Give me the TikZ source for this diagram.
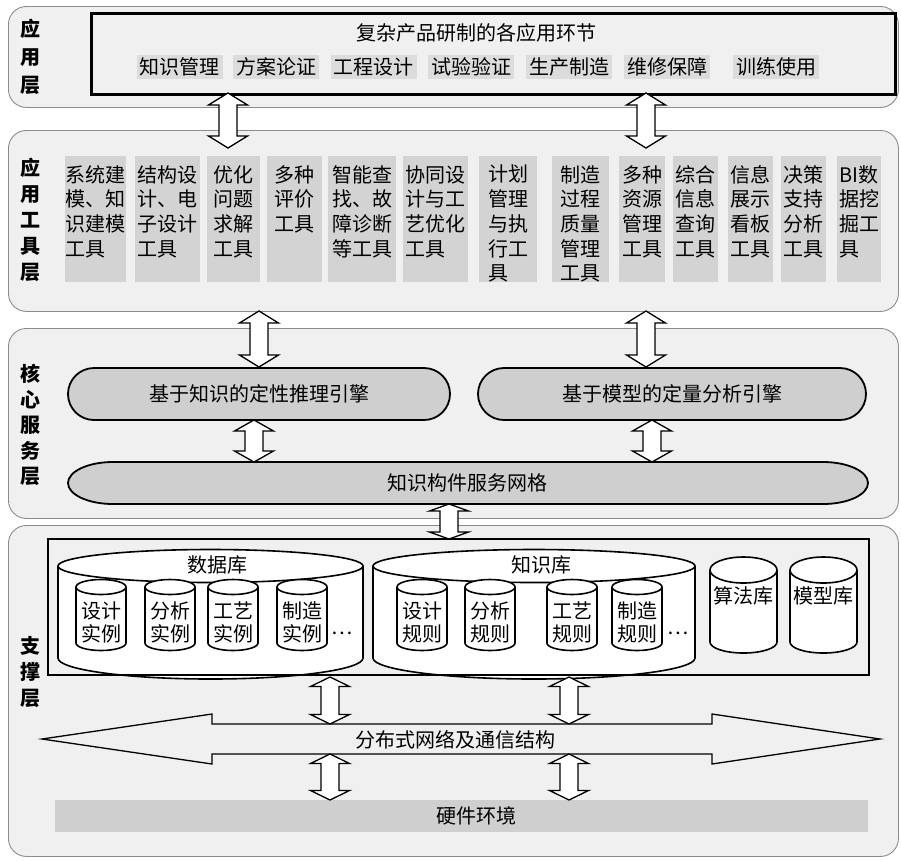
\documentclass[tikz,border=0pt]{standalone}
\usepackage{fontspec}
\setmainfont{Noto Sans CJK SC}
\definecolor{layerbg}{HTML}{F0F0F0}
\definecolor{layerline}{HTML}{8C8C8C}
\definecolor{toolgray}{HTML}{D3D3D3}
\definecolor{enggray}{HTML}{CFCFCF}
\definecolor{itemgray}{HTML}{DCDCDC}
\newcommand\vdarrow[4]{% x, ytop, ybottom, head length
  \draw[blockarrow] (#1-19.5,#2+#4) -- (#1,#2) -- (#1+19.5,#2+#4) -- (#1+9,#2+#4) -- (#1+9,#3-#4) -- (#1+19.5,#3-#4) -- (#1,#3) -- (#1-19.5,#3-#4) -- (#1-9,#3-#4) -- (#1-9,#2+#4) -- cycle;}
\newcommand\drawcyl[6]{% x1, x2, y top centre, y bottom centre, top ry, bottom ry
  \pgfmathsetmacro\cyCx{(#1+#2)/2}%
  \pgfmathsetmacro\cyKx{0.5523*(#2-#1)/2}%
  \draw[cyl] (#1,#3) -- (#1,#4) .. controls (#1,#4+0.5523*#6) and (\cyCx-\cyKx,#4+#6) .. (\cyCx,#4+#6) .. controls (\cyCx+\cyKx,#4+#6) and (#2,#4+0.5523*#6) .. (#2,#4) -- (#2,#3) .. controls (#2,#3-0.5523*#5) and (\cyCx+\cyKx,#3-#5) .. (\cyCx,#3-#5) .. controls (\cyCx-\cyKx,#3-#5) and (#1,#3-0.5523*#5) .. (#1,#3) -- cycle;
  \draw[cyl, fill=none] (#1,#3) .. controls (#1,#3+0.5523*#5) and (\cyCx-\cyKx,#3+#5) .. (\cyCx,#3+#5) .. controls (\cyCx+\cyKx,#3+#5) and (#2,#3+0.5523*#5) .. (#2,#3);}
\begin{document}
\begin{tikzpicture}[x=1pt,y=-1pt,
  every node/.style={inner sep=0pt, font=\fontsize{20pt}{24.7pt}\selectfont},
  layerbox/.style={draw=layerline, line width=0.9pt, fill=layerbg, rounded corners=18pt, anchor=north west},
  lab/.style={font=\bfseries\fontsize{20pt}{26pt}\selectfont, align=center},
  itembox/.style={fill=itemgray, inner xsep=3pt, inner ysep=2.5pt},
  toolbox/.style={fill=toolgray, minimum height=126pt, anchor=north},
  tooltext/.style={anchor=north, align=left},
  blockarrow/.style={draw=black, line width=1.3pt, fill=white, line join=miter},
  engine/.style={draw=black, line width=1.8pt, fill=enggray, rounded corners=26pt, minimum height=52pt},
  cyl/.style={draw=black, line width=1.6pt, fill=white},
  twoline/.style={align=center, font=\fontsize{20pt}{23pt}\selectfont},
]
\useasboundingbox (0,0) rectangle (901,860);

% layers
\node[layerbox, minimum width=890pt, minimum height=101pt] (L1) at (8,6) {};
\node[layerbox, minimum width=890pt, minimum height=181pt] (L2) at (8,130) {};
\node[layerbox, minimum width=890pt, minimum height=190pt] (L3) at (8,328) {};
\node[layerbox, minimum width=890pt, minimum height=331pt] (L4) at (8,525) {};

\node[lab, font=\bfseries\fontsize{20pt}{28pt}\selectfont] (lab1) at (30,57) {应\\用\\层};
\node[lab] (lab2) at (30,220) {应\\用\\工\\具\\层};
\node[lab, font=\bfseries\fontsize{20pt}{25.5pt}\selectfont] (lab3) at (30,425) {核\\心\\服\\务\\层};
\node[lab] (lab4) at (30,672) {支\\撑\\层};

% application layer
\node[draw=black, line width=2.5pt, minimum width=804pt, minimum height=81pt, anchor=north west] (apps) at (90,12) {};
\node (title) at (476,33) {复杂产品研制的各应用环节};
\node[itembox] (a1) at (179.5,67) {知识管理};
\node[itembox] (a2) at (276,67) {方案论证};
\node[itembox] (a3) at (373.5,67) {工程设计};
\node[itembox] (a4) at (471,67) {试验验证};
\node[itembox] (a5) at (569,67) {生产制造};
\node[itembox] (a6) at (667,67) {维修保障};
\node[itembox] (a7) at (776,67) {训练使用};

% tool layer
\node[toolbox, minimum width=61pt] (t1) at (95.5,156) {};
\node[toolbox, minimum width=65pt] (t2) at (167.5,156) {};
\node[toolbox, minimum width=53pt] (t3) at (233.5,156) {};
\node[toolbox, minimum width=55pt] (t4) at (294.5,156) {};
\node[toolbox, minimum width=68pt] (t5) at (362,156) {};
\node[toolbox, minimum width=65pt] (t6) at (435.5,156) {};
\node[toolbox, minimum width=58pt] (t7) at (508,156) {};
\node[toolbox, minimum width=57pt] (t8) at (580.5,156) {};
\node[toolbox, minimum width=46pt] (t9) at (642,156) {};
\node[toolbox, minimum width=45pt] (t10) at (695.5,156) {};
\node[toolbox, minimum width=45pt] (t11) at (750.5,156) {};
\node[toolbox, minimum width=45pt] (t12) at (803.5,156) {};
\node[toolbox, minimum width=44pt] (t13) at (859,156) {};
\node[tooltext] (tt1) at ([yshift=-9pt]t1.north) {系统建\\模、知\\识建模\\工具};
\node[tooltext] (tt2) at ([yshift=-9pt]t2.north) {结构设\\计、电\\子设计\\工具};
\node[tooltext] (tt3) at ([yshift=-9pt]t3.north) {优化\\问题\\求解\\工具};
\node[tooltext] (tt4) at ([yshift=-9pt]t4.north) {多种\\评价\\工具};
\node[tooltext] (tt5) at ([yshift=-9pt]t5.north) {智能查\\找、故\\障诊断\\等工具};
\node[tooltext] (tt6) at ([yshift=-9pt]t6.north) {协同设\\计与工\\艺优化\\工具};
\node[tooltext] (tt7) at ([yshift=-9pt]t7.north) {计划\\管理\\与执\\行工\\具};
\node[tooltext] (tt8) at ([yshift=-9pt]t8.north) {制造\\过程\\质量\\管理\\工具};
\node[tooltext] (tt9) at ([yshift=-9pt]t9.north) {多种\\资源\\管理\\工具};
\node[tooltext] (tt10) at ([yshift=-9pt]t10.north) {综合\\信息\\查询\\工具};
\node[tooltext] (tt11) at ([yshift=-9pt]t11.north) {信息\\展示\\看板\\工具};
\node[tooltext] (tt12) at ([yshift=-9pt]t12.north) {决策\\支持\\分析\\工具};
\node[tooltext] (tt13) at ([yshift=-9pt]t13.north) {BI数\\据挖\\掘工\\具};

% core service layer
\node[engine, minimum width=382pt] (e1) at (259,394) {基于知识的定性推理引擎};
\node[engine, minimum width=388pt] (e2) at (672,394) {基于模型的定量分析引擎};
\draw[draw=black, line width=1.8pt, fill=enggray] (113,462) -- (823,462) .. controls (847.9,462) and (868,471.4) .. (868,483) .. controls (868,494.6) and (847.9,504) .. (823,504) -- (113,504) .. controls (88.1,504) and (68,494.6) .. (68,483) .. controls (68,471.4) and (88.1,462) .. (113,462) -- cycle;
\node (grid) at (467,483) {知识构件服务网格};

% support layer
\drawcyl{58}{363}{566}{658}{16.5}{21}
\drawcyl{373}{695}{566}{658}{16.5}{21}
\draw[black, line width=2.5pt] (48,539) rectangle (869,675);
\coordinate (store) at (458.5,607);
\node (db) at (217,565) {数据库};
\node (kb) at (541,565) {知识库};
\drawcyl{76}{126}{587}{643}{7.5}{7.5}
\drawcyl{145}{195}{587}{643}{7.5}{7.5}
\drawcyl{208}{258}{587}{643}{7.5}{7.5}
\drawcyl{277}{327}{587}{643}{7.5}{7.5}
\drawcyl{397}{447}{587}{643}{7.5}{7.5}
\drawcyl{465}{515}{587}{643}{7.5}{7.5}
\drawcyl{547}{597}{587}{643}{7.5}{7.5}
\drawcyl{612}{662}{587}{643}{7.5}{7.5}
\drawcyl{710}{777}{570}{642}{13}{11}
\drawcyl{790}{857}{570}{642}{13}{11}
\node[twoline] (c1) at (101,622) {设计\\实例};
\node[twoline] (c2) at (170,622) {分析\\实例};
\node[twoline] (c3) at (233,622) {工艺\\实例};
\node[twoline] (c4) at (302,622) {制造\\实例};
\node (d1) at (342,633) {…};
\node[twoline] (c5) at (422,622) {设计\\规则};
\node[twoline] (c6) at (490,622) {分析\\规则};
\node[twoline] (c7) at (572,622) {工艺\\规则};
\node[twoline] (c8) at (637,622) {制造\\规则};
\node (d2) at (678,633) {…};
\node (alg) at (743.5,596) {算法库};
\node (mdl) at (823.5,596) {模型库};

% network arrow and hardware
\draw[blockarrow, fill=layerbg] (42,739) -- (212,714) -- (212,724) -- (712,724) -- (712,714) -- (880,739) -- (712,764) -- (712,754) -- (212,754) -- (212,764) -- cycle;
\node (net) at (455,740) {分布式网络及通信结构};
\node[fill=enggray, minimum width=813pt, minimum height=32pt] (hwbar) at (461.5,816) {};
\node (hw) at (476,816) {硬件环境};

% connecting block arrows
\vdarrow{228}{93}{148}{12}
\vdarrow{646}{93}{148}{12}
\vdarrow{259}{311}{367}{12}
\vdarrow{646}{311}{367}{12}
\vdarrow{254}{420}{462}{11}
\vdarrow{652}{420}{462}{11}
\vdarrow{449}{504}{539}{7}
\vdarrow{330}{677}{724}{9.5}
\vdarrow{569}{677}{724}{9.5}
\vdarrow{330}{754}{800}{9.5}
\vdarrow{569}{754}{800}{9.5}
\end{tikzpicture}
\end{document}
